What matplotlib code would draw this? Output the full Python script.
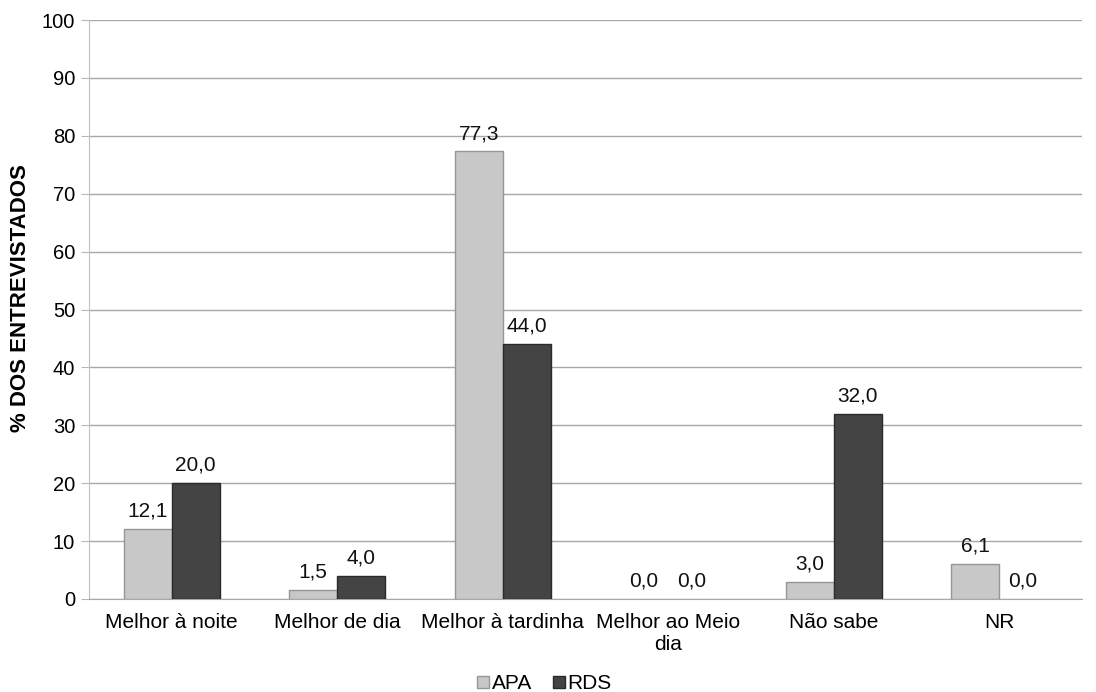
import matplotlib
matplotlib.use("Agg")
import matplotlib.pyplot as plt
import numpy as np

# categorias e valores (% dos entrevistados)
categories = ["Melhor à noite", "Melhor de dia", "Melhor à tardinha",
              "Melhor ao Meio\ndia", "Não sabe", "NR"]
apa = [12.1, 1.5, 77.3, 0.0, 3.0, 6.1]
rds = [20.0, 4.0, 44.0, 0.0, 32.0, 0.0]
yticks = [0, 10, 20, 30, 40, 50, 60, 70, 80, 90, 100]

plt.rcParams['font.family'] = ['Liberation Sans', 'DejaVu Sans']

fig = plt.figure(figsize=(10.96, 6.92), dpi=100)
ax = fig.add_axes([0.0812, 0.1344, 0.9058, 0.8366])

x = np.arange(len(categories))
w = 0.29

lw1 = [1 if v > 0 else 0 for v in apa]
lw2 = [1 if v > 0 else 0 for v in rds]
b1 = ax.bar(x - w/2, apa, w, color="#c8c8c8", edgecolor="#969696",
            linewidth=lw1, label="APA", zorder=3)
b2 = ax.bar(x + w/2, rds, w, color="#444444", edgecolor="#2a2a2a",
            linewidth=lw2, label="RDS", zorder=3)

# rótulos de valor
for bars, vals in [(b1, apa), (b2, rds)]:
    for b, v in zip(bars, vals):
        ax.annotate(("%.1f" % v).replace(".", ","),
                    (b.get_x() + b.get_width()/2, v),
                    xytext=(0, 6), textcoords="offset points",
                    ha="center", va="bottom", fontsize=15, color="#111111")

ax.set_xlim(-0.5, len(categories) - 0.5)
ax.set_ylim(0, 100)
ax.set_yticks(yticks)
ax.set_yticklabels([str(t) for t in yticks], fontsize=14.5)
ax.set_xticks(x)
ax.set_xticklabels(categories, fontsize=15)
ax.tick_params(axis="x", length=0, pad=10)
ax.tick_params(axis="y", length=6, color="#b8b8b8", pad=4)

ax.grid(axis="y", color="#a8a8a8", linewidth=1, zorder=0)
for s in ["top", "right"]:
    ax.spines[s].set_visible(False)
ax.spines["left"].set_color("#c0c0c0")
ax.spines["bottom"].set_color("#a8a8a8")

ax.set_ylabel("% DOS ENTREVISTADOS", fontsize=16, fontweight="bold")
ax.yaxis.set_label_coords(-0.058, 0.52)

fig.legend(handles=[b1, b2], loc="center", bbox_to_anchor=(0.497, 0.012),
           ncol=2, frameon=False, fontsize=15, handlelength=0.55,
           handleheight=0.55, handletextpad=0.15, columnspacing=1.0)

fig.savefig("out.png", dpi=100)
